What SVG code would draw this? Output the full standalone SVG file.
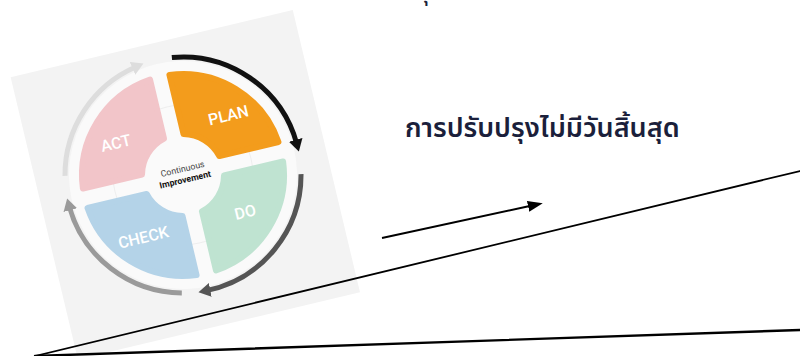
<svg xmlns="http://www.w3.org/2000/svg" width="800" height="356" viewBox="0 0 800 356">
  <style>
    .q-label { font-family: Roboto, "Liberation Sans", sans-serif; font-weight: 500; font-size: 16px; fill: #ffffff; text-anchor: middle; }
    .center-label { font-family: Roboto, "Liberation Sans", sans-serif; font-size: 8.8px; text-anchor: middle; }
    .thai { font-family: "Noto Sans Thai", Tahoma, "Noto Sans", "DejaVu Sans", sans-serif; fill: #1b1f3b; }
    .ring { fill: none; stroke-width: 5; }
    .wedge { fill: none; stroke: #000; stroke-linecap: round; }
  </style>
  <defs>
    <marker id="head-black" markerUnits="userSpaceOnUse" markerWidth="16" markerHeight="16" viewBox="0 -8 16 16" refX="4" refY="0" orient="auto">
      <path d="M0,-7 L12,0 L0,7 Z" fill="#111111"/>
    </marker>
    <marker id="head-dark" markerUnits="userSpaceOnUse" markerWidth="16" markerHeight="16" viewBox="0 -8 16 16" refX="4" refY="0" orient="auto">
      <path d="M0,-7 L12,0 L0,7 Z" fill="#555555"/>
    </marker>
    <marker id="head-mid" markerUnits="userSpaceOnUse" markerWidth="16" markerHeight="16" viewBox="0 -8 16 16" refX="4" refY="0" orient="auto">
      <path d="M0,-7 L12,0 L0,7 Z" fill="#9a9a9a"/>
    </marker>
    <marker id="head-light" markerUnits="userSpaceOnUse" markerWidth="16" markerHeight="16" viewBox="0 -8 16 16" refX="4" refY="0" orient="auto">
      <path d="M0,-7 L12,0 L0,7 Z" fill="#dddddd"/>
    </marker>
    <marker id="arrow-end" markerUnits="userSpaceOnUse" markerWidth="18" markerHeight="14" viewBox="0 -7 18 14" refX="4" refY="0" orient="auto">
      <path d="M0,-5.5 L15,0 L0,5.5 Z" fill="#000"/>
    </marker>
  </defs>

  <rect width="800" height="356" fill="#ffffff"/>

  <!-- clipped Thai mark at the very top -->
  <text class="thai" x="417" y="-1" font-size="26">รุ</text>

  <!-- PDCA picture -->
  <g id="pdca" transform="translate(183,175) rotate(-13.4)">
    <rect x="-145" y="-135" width="290" height="290" fill="#f3f3f3"/>
    <circle cx="0" cy="0" r="114" fill="#fafafa"/>
    <circle cx="0" cy="0" r="70" fill="none" stroke="#eeeeee" stroke-width="1"/>

    <g id="act" fill="#f2c5c9" stroke="#f2c5c9" stroke-width="6" stroke-linejoin="round">
      <path d="M-100.5,-10 A101,101 0 0 1 -10,-100.5 L-10,-39.76 A41,41 0 0 0 -39.76,-10 Z"/>
    </g>
    <g id="plan" fill="#f39c1c" stroke="#f39c1c" stroke-width="6" stroke-linejoin="round">
      <path d="M10,-100.5 A101,101 0 0 1 100.5,-10 L39.76,-10 A41,41 0 0 0 10,-39.76 Z"/>
    </g>
    <g id="do" fill="#bfe3d1" stroke="#bfe3d1" stroke-width="6" stroke-linejoin="round">
      <path d="M100.5,10 A101,101 0 0 1 10,100.5 L10,39.76 A41,41 0 0 0 39.76,10 Z"/>
    </g>
    <g id="check" fill="#b4d3e8" stroke="#b4d3e8" stroke-width="6" stroke-linejoin="round">
      <path d="M-10,100.5 A101,101 0 0 1 -100.5,10 L-39.76,10 A41,41 0 0 0 -10,39.76 Z"/>
    </g>

    <text class="q-label" x="-58" y="-41">ACT</text>
    <text class="q-label" x="58" y="-42">PLAN</text>
    <text class="q-label" x="52" y="56">DO</text>
    <text class="q-label" x="-53" y="57">CHECK</text>

    <text class="center-label" x="1" y="-3" fill="#444444">Continuous</text>
    <text class="center-label" x="1" y="8" fill="#111111" font-weight="700">Improvement</text>

    <g id="cycle-arrows">
      <path class="ring" stroke="#111111" d="M16.4,-116.9 A118,118 0 0 1 117.9,-4.1" marker-end="url(#head-black)"/>
      <path class="ring" stroke="#555555" d="M115,26.5 A118,118 0 0 1 -4.1,117.9" marker-end="url(#head-dark)"/>
      <path class="ring" stroke="#9a9a9a" d="M-28.5,114.5 A118,118 0 0 1 -117.9,4.1" marker-end="url(#head-mid)"/>
      <path class="ring" stroke="#dddddd" d="M-115,-26.5 A118,118 0 0 1 -20.5,-116.2" marker-end="url(#head-light)"/>
    </g>
  </g>

  <!-- title -->
  <g id="title">
    <text class="thai" x="405" y="137" font-size="27" font-weight="600">การปรับปรุงไม่มีวันสิ้นสุด</text>
  </g>

  <!-- connectors -->
  <g id="connectors">
    <line x1="382" y1="238" x2="532" y2="205.5" stroke="#000" stroke-width="2" marker-end="url(#arrow-end)"/>
    <line class="wedge" x1="35" y1="356" x2="800" y2="171" stroke-width="1.8"/>
    <line class="wedge" x1="35" y1="356" x2="800" y2="330" stroke-width="2.4"/>
  </g>
</svg>
